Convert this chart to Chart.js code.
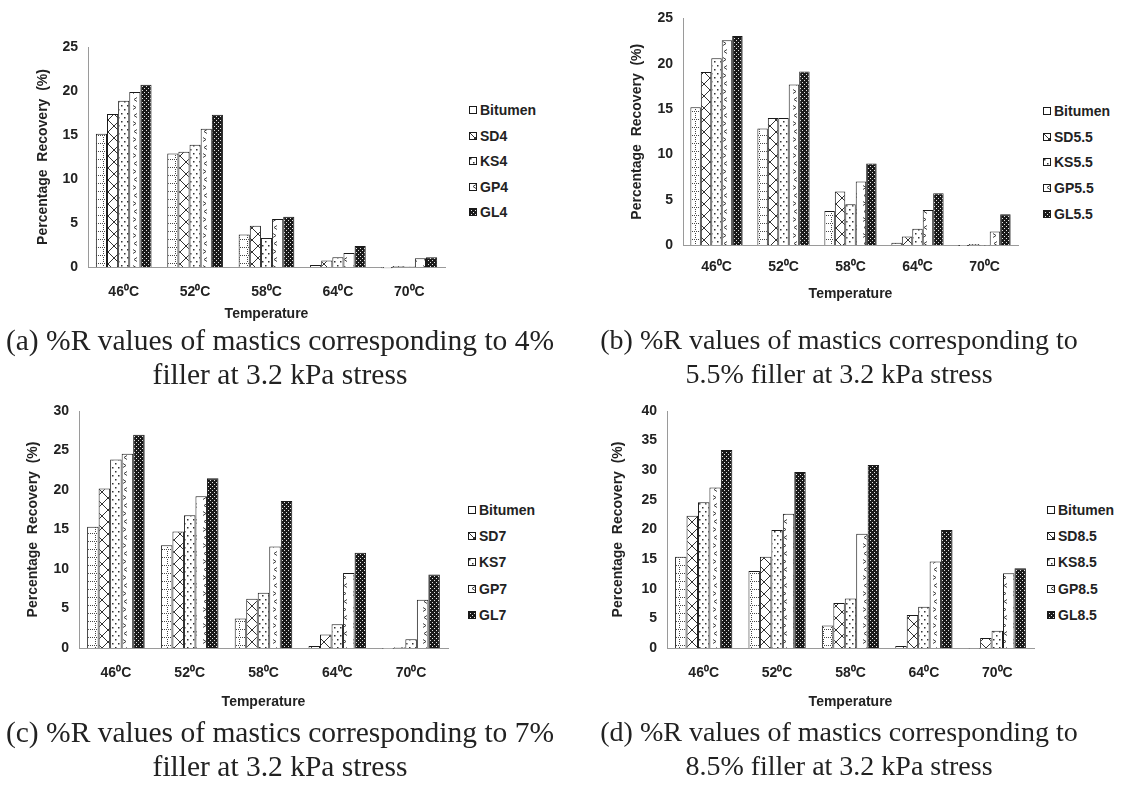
<!DOCTYPE html>
<html lang="en">
<head>
<meta charset="UTF-8">
<title>%R values of mastics at 3.2 kPa stress</title>
<script src="https://cdn.jsdelivr.net/npm/chart.js"></script>
<style>
  body { margin: 0; background: #fff; }
  #page { position: relative; width: 1132px; height: 797px; overflow: hidden; background: #fff; }
  .panel { position: absolute; }
  .legend { position: absolute; font: bold 14px "Liberation Sans", Arial, sans-serif; color: #222; }
  .legend .row { position: absolute; left: 0; height: 16px; line-height: 16px; white-space: nowrap; }
  .legend canvas { position: absolute; left: 0; top: 4px; }
  .legend span { position: absolute; left: 11px; top: 0; }
  .caption { position: absolute; width: 600px; text-align: center; font-family: "Liberation Serif", "Times New Roman", serif; font-size: 28px; line-height: 34px; color: #222; white-space: nowrap; }
  .caption.wide { font-size: 29.5px; }
</style>
</head>
<body>
<div id="page">
  <canvas class="panel" id="chartA" width="450" height="330" style="left:0;top:0"></canvas>
  <canvas class="panel" id="chartB" width="462" height="310" style="left:560px;top:0"></canvas>
  <canvas class="panel" id="chartC" width="455" height="330" style="left:0;top:390px"></canvas>
  <canvas class="panel" id="chartD" width="480" height="330" style="left:560px;top:390px"></canvas>

  <div class="legend" id="legendA" style="left:469px;top:102px"></div>
  <div class="legend" id="legendB" style="left:1043px;top:103px"></div>
  <div class="legend" id="legendC" style="left:468px;top:502px"></div>
  <div class="legend" id="legendD" style="left:1047px;top:502px"></div>

  <div class="caption wide" style="left:-20px;top:323px">(a) %R values of mastics corresponding to 4%<br>filler at 3.2 kPa stress</div>
  <div class="caption" style="left:539px;top:323px">(b) %R values of mastics corresponding to<br>5.5% filler at 3.2 kPa stress</div>
  <div class="caption wide" style="left:-20px;top:715px">(c) %R values of mastics corresponding to 7%<br>filler at 3.2 kPa stress</div>
  <div class="caption" style="left:539px;top:715px">(d) %R values of mastics corresponding to<br>8.5% filler at 3.2 kPa stress</div>
</div>

<script>
// test temperatures
const temps = ['46\u2070C', '52\u2070C', '58\u2070C', '64\u2070C', '70\u2070C'];

// (a) 4% filler
const namesA = ['Bitumen', 'SD4', 'KS4', 'GP4', 'GL4'];
const bitumenA = [15.15, 12.9, 3.7, 0.23, -0.15];
const sdA = [17.4, 13.1, 4.7, 0.75, 0.1];
const ksA = [18.9, 13.9, 3.3, 1.1, 0.05];
const gpA = [19.9, 15.7, 5.45, 1.6, 1.0];
const glA = [20.7, 17.3, 5.7, 2.4, 1.1];

// (b) 5.5% filler
const namesB = ['Bitumen', 'SD5.5', 'KS5.5', 'GP5.5', 'GL5.5'];
const bitumenB = [15.2, 12.85, 3.75, 0.25, -0.1];
const sdB = [19.1, 14.0, 5.9, 0.95, 0.1];
const ksB = [20.6, 14.0, 4.5, 1.8, -0.05];
const gpB = [22.6, 17.7, 7.0, 3.85, 1.5];
const glB = [23.05, 19.15, 9.0, 5.7, 3.4];

// (c) 7% filler
const namesC = ['Bitumen', 'SD7', 'KS7', 'GP7', 'GL7'];
const bitumenC = [15.35, 13.0, 3.75, 0.25, -0.1];
const sdC = [20.2, 14.75, 6.25, 1.7, 0.1];
const ksC = [23.85, 16.8, 7.0, 3.0, 1.1];
const gpC = [24.6, 19.2, 12.85, 9.5, 6.1];
const glC = [27.0, 21.5, 18.6, 12.05, 9.3];

// (d) 8.5% filler
const namesD = ['Bitumen', 'SD8.5', 'KS8.5', 'GP8.5', 'GL8.5'];
const bitumenD = [15.4, 13.0, 3.8, 0.35, -0.1];
const sdD = [22.3, 15.4, 7.6, 5.55, 1.7];
const ksD = [24.6, 19.9, 8.35, 6.95, 2.9];
const gpD = [27.1, 22.65, 19.3, 14.6, 12.6];
const glD = [33.4, 29.7, 30.9, 19.9, 13.45];

const yMaxA = 25, yMaxB = 25, yMaxC = 30, yMaxD = 40;

// hatch fills, one per material
const fills = ['grid', 'cross', 'dots', 'chevron', 'black'];

function makePattern(ctx, kind) {
  const c = document.createElement('canvas');
  const g = c.getContext('2d');
  if (kind === 'grid') {
    c.width = 8; c.height = 8;
    g.fillStyle = '#fff'; g.fillRect(0, 0, 8, 8);
    g.fillStyle = '#444';
    for (let x = 0; x < 8; x += 2) g.fillRect(x, 7, 1, 1);
    for (let y = 1; y < 7; y += 2) g.fillRect(7, y, 1, 1);
  } else if (kind === 'cross') {
    c.width = 12; c.height = 12;
    g.fillStyle = '#fff'; g.fillRect(0, 0, 12, 12);
    g.strokeStyle = '#333'; g.lineWidth = 1;
    g.beginPath();
    g.moveTo(0, 0); g.lineTo(12, 12);
    g.moveTo(12, 0); g.lineTo(0, 12);
    g.stroke();
  } else if (kind === 'dots') {
    c.width = 6; c.height = 8;
    g.fillStyle = '#fff'; g.fillRect(0, 0, 6, 8);
    g.fillStyle = '#333';
    g.fillRect(1, 1, 1.5, 1.5);
    g.fillRect(4, 5, 1.5, 1.5);
  } else if (kind === 'chevron') {
    c.width = 10; c.height = 16;
    g.fillStyle = '#fff'; g.fillRect(0, 0, 10, 16);
    g.strokeStyle = '#444'; g.lineWidth = 1;
    g.beginPath();
    g.moveTo(7, 1.5); g.lineTo(4, 3.5); g.lineTo(7, 5.5);
    g.moveTo(3, 9.5); g.lineTo(6, 11.5); g.lineTo(3, 13.5);
    g.stroke();
  } else {
    c.width = 4; c.height = 4;
    g.fillStyle = '#1a1a1a'; g.fillRect(0, 0, 4, 4);
    g.fillStyle = '#e6e6e6';
    g.fillRect(0, 0, 1, 1);
    g.fillRect(2, 2, 1, 1);
  }
  return ctx.createPattern(c, 'repeat');
}

const tickFont = { family: '"Liberation Sans", Arial, sans-serif', size: 14, weight: 'bold' };
const titleFont = { family: '"Liberation Sans", Arial, sans-serif', size: 14, weight: 'bold' };

function buildChart(id, legendId, names, series, yMax, lay) {
  const canvas = document.getElementById(id);
  const ctx = canvas.getContext('2d');
  const datasets = series.map((values, i) => ({
    label: names[i],
    data: values,
    backgroundColor: makePattern(ctx, fills[i]),
    borderColor: '#1a1a1a',
    borderWidth: 1,
    clip: false,
    categoryPercentage: 0.78,
    barPercentage: 1.0
  }));

  const chart = new Chart(ctx, {
    type: 'bar',
    data: { labels: temps, datasets: datasets },
    options: {
      responsive: false,
      animation: false,
      layout: { padding: { top: lay.top, right: lay.right, left: 0, bottom: 0 } },
      plugins: { legend: { display: false }, tooltip: { enabled: false } },
      scales: {
        x: {
          grid: { display: false, drawTicks: false },
          border: { color: '#9a9a9a', width: 1 },
          ticks: { font: tickFont, color: '#222', padding: lay.xTickPad, maxRotation: 0 },
          title: { display: true, text: 'Temperature', font: titleFont, color: '#222', padding: { top: 0, bottom: lay.xTitlePad } },
          afterFit: (s) => { s.height = lay.xHeight; }
        },
        y: {
          min: 0,
          max: yMax,
          grid: { display: false, drawTicks: false },
          border: { color: '#9a9a9a', width: 1 },
          ticks: { stepSize: 5, font: tickFont, color: '#222', padding: 10 },
          title: { display: true, text: 'Percentage  Recovery  (%)', font: titleFont, color: '#222', padding: { top: lay.yTitlePad, bottom: 0 } },
          afterFit: (s) => { s.width = lay.yWidth; }
        }
      }
    }
  });

  // legend rows built from the datasets
  const box = document.getElementById(legendId);
  chart.data.datasets.forEach((ds, i) => {
    const row = document.createElement('div');
    row.className = 'row';
    row.style.top = (i * lay.legendGap) + 'px';
    const sw = document.createElement('canvas');
    sw.width = 8; sw.height = 8;
    const sctx = sw.getContext('2d');
    sctx.fillStyle = makePattern(sctx, fills[i]);
    sctx.fillRect(0, 0, 8, 8);
    sctx.strokeStyle = '#1a1a1a';
    sctx.strokeRect(0.5, 0.5, 7, 7);
    const label = document.createElement('span');
    label.textContent = ds.label;
    row.appendChild(sw);
    row.appendChild(label);
    box.appendChild(row);
  });
  return chart;
}

buildChart('chartA', 'legendA', namesA, [bitumenA, sdA, ksA, gpA, glA], yMaxA,
  { top: 47, right: 5, yWidth: 88, xHeight: 63, xTickPad: 17, xTitlePad: 7, yTitlePad: 35, legendGap: 25.5 });
buildChart('chartB', 'legendB', namesB, [bitumenB, sdB, ksB, gpB, glB], yMaxB,
  { top: 14, right: 4, yWidth: 123, xHeight: 65, xTickPad: 14, xTitlePad: 7, yTitlePad: 69, legendGap: 25.7 });
buildChart('chartC', 'legendC', namesC, [bitumenC, sdC, ksC, gpC, glC], yMaxC,
  { top: 21, right: 7, yWidth: 79, xHeight: 72, xTickPad: 17, xTitlePad: 9, yTitlePad: 25, legendGap: 26.2 });
buildChart('chartD', 'legendD', namesD, [bitumenD, sdD, ksD, gpD, glD], yMaxD,
  { top: 21, right: 6, yWidth: 107, xHeight: 72, xTickPad: 17, xTitlePad: 9, yTitlePad: 50, legendGap: 26.2 });
</script>
</body>
</html>
